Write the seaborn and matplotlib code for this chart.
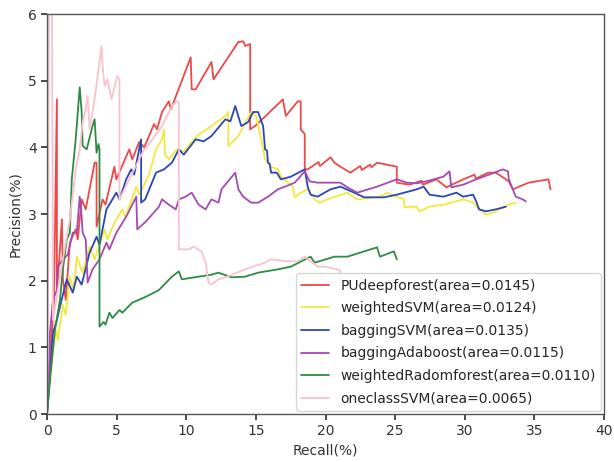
import numpy as np
import pandas as pd
import matplotlib
matplotlib.use("Agg")
import matplotlib.pyplot as plt
import seaborn as sns

methods = [
    "PUdeepforest(area=0.0145)",
    "weightedSVM(area=0.0124)",
    "baggingSVM(area=0.0135)",
    "baggingAdaboost(area=0.0115)",
    "weightedRadomforest(area=0.0110)",
    "oneclassSVM(area=0.0065)",
]
colors = ["#EE4848", "#F2EA3A", "#2A46B8", "#A54AB5", "#2E8B44", "#F7C3CC"]

recall_pudf = [0, 0.21, 0.36, 0.50, 0.71, 0.71, 0.93, 1.07, 1.14, 1.35, 1.64, 2.06, 2.21, 2.49, 2.78,
               3.42, 3.56, 3.56, 3.99, 4.20, 4.84, 4.98, 5.91, 6.12, 6.62, 6.98, 7.69, 7.90, 8.26, 8.75,
               8.90, 10.32, 10.39, 10.68, 11.81, 11.96, 13.74, 14.09, 14.23, 14.59, 14.59, 14.95, 16.94,
               17.15, 18.01, 18.22, 18.22, 18.51, 18.51, 18.72, 19.50, 19.60, 20.36, 20.64, 21.07, 21.78,
               22.50, 22.60, 23.20, 23.30, 23.70, 25.12,
               25.12, 26.05, 26.90, 27.00, 27.97, 28.68, 29.89, 30.70, 30.80, 31.67, 32.24, 33.17, 33.45,
               34.59, 36.01, 36.16]
prec_pudf = [0, 0.81, 1.26, 1.71, 4.72, 1.86, 2.47, 2.92, 2.02, 1.71, 2.57, 2.77, 2.62, 3.22, 3.07,
             3.77, 3.77, 2.81, 3.22, 3.14, 3.71, 3.52, 3.97, 3.82, 4.08, 4.00, 4.35, 4.27, 4.53, 4.69,
             4.57, 5.35, 4.87, 4.87, 5.28, 5.02, 5.58, 5.59, 5.52, 5.55, 4.27, 4.32, 4.72,
             4.47, 4.69, 4.69, 4.27, 4.20, 3.67, 3.67, 3.78, 3.72, 3.85, 3.77, 3.71, 3.62,
             3.72, 3.66, 3.74, 3.70, 3.77, 3.71,
             3.47, 3.44, 3.50, 3.44, 3.52, 3.40, 3.52, 3.59, 3.53, 3.62, 3.62, 3.49, 3.37,
             3.47, 3.52, 3.37]

recall_wsvm = [0, 0.21, 0.43, 0.64, 0.78, 1.14, 1.35, 1.64, 1.92, 2.14, 2.56, 3.06, 3.42, 4.13, 4.34,
               4.84, 5.41, 5.62, 6.41, 6.62, 7.33, 7.83, 8.26, 8.40, 8.47, 8.75, 9.32, 9.82, 10.75, 11.81,
               12.81, 13.02, 13.02, 13.74, 14.66, 15.02, 15.30, 15.52, 15.66, 16.09, 16.58, 16.80, 17.65,
               17.79, 18.22, 18.72, 19.22, 19.57, 20.14, 21.57, 22.28, 23.91, 24.41, 25.62, 25.69, 26.55,
               26.76, 27.47, 28.47, 29.89, 30.60, 30.82, 31.53, 32.03, 33.17, 33.67]
prec_wsvm = [0, 0.51, 0.96, 1.26, 1.11, 1.64, 1.49, 2.06, 1.86, 2.36, 2.12, 2.51, 2.32, 2.77, 2.62,
             2.87, 3.07, 2.95, 3.41, 3.29, 3.59, 3.97, 4.12, 4.27, 3.89, 3.82, 3.97, 3.94, 4.17, 4.32,
             4.47, 4.53, 4.02, 4.17, 4.53, 4.47, 4.20, 3.97, 3.82, 3.71, 3.67, 3.56, 3.41,
             3.25, 3.32, 3.37, 3.22, 3.17, 3.22, 3.32, 3.22, 3.26, 3.32, 3.22, 3.10, 3.11,
             3.04, 3.11, 3.14, 3.22, 3.17, 3.11, 2.99, 3.02, 3.14, 3.17]

recall_bsvm = [0, 0.14, 0.43, 0.71, 0.93, 1.42, 1.85, 2.14, 2.49, 3.06, 3.56, 3.77, 4.27, 4.98, 5.20,
               5.69, 6.05, 6.26, 6.76, 6.76, 7.05, 7.83, 8.40, 8.97, 9.47, 9.82, 10.68, 11.25, 11.81,
               12.81, 13.17, 13.52, 13.95, 14.45, 14.80, 15.16, 15.52, 15.66, 15.80, 15.87, 16.00, 16.09,
               16.50, 16.80, 17.51,
               18.51, 18.72, 18.93, 19.43, 20.36, 21.07, 22.06, 22.78, 24.20, 25.12, 26.55, 27.05, 27.47,
               28.47, 29.40, 29.89, 30.60, 30.82, 31.03, 31.53, 32.24, 32.95]
prec_bsvm = [0, 0.36, 1.22, 1.41, 1.61, 2.02, 1.82, 2.06, 1.94, 2.42, 2.66, 2.54, 3.07, 3.32, 3.22,
             3.52, 3.67, 3.59, 4.12, 3.17, 3.22, 3.62, 3.67, 3.77, 3.97, 3.89, 4.12, 4.09, 4.17,
             4.42, 4.39, 4.62, 4.32, 4.38, 4.53, 4.53, 4.32, 3.97, 3.95, 3.77, 3.75, 3.62,
             3.62, 3.52, 3.56,
             3.67, 3.41, 3.29, 3.26, 3.37, 3.41, 3.32, 3.25, 3.25, 3.29, 3.37, 3.41, 3.29,
             3.26, 3.32, 3.26, 3.29, 3.19, 3.07, 3.04, 3.07, 3.11]

recall_bada = [0, 0.14, 0.21, 0.43, 0.71, 0.78, 1.14, 1.49, 1.85, 2.14, 2.35, 2.49, 2.56, 2.78, 2.92,
               3.27, 3.77, 4.27, 4.48, 4.98, 5.69, 6.41, 6.48, 7.12, 8.04, 8.26, 8.75, 9.25, 9.47, 9.96,
               10.39, 10.89, 11.39, 11.81, 12.31, 12.53, 13.24, 13.52, 13.74, 14.09, 14.66, 15.16, 15.87,
               16.58, 17.08, 17.79, 18.51, 18.86, 19.43, 21.07, 21.57, 22.28, 23.70, 25.12, 25.84, 26.55,
               27.26, 28.47, 28.90, 29.04, 29.89, 30.82, 31.74, 32.74, 33.10, 33.17, 33.45, 33.67, 34.16,
               34.38]
prec_bada = [0, 0.51, 1.22, 1.71, 1.86, 2.21, 2.32, 2.39, 2.72, 2.72, 3.26, 2.96, 2.72, 2.62, 1.97,
             2.17, 2.32, 2.57, 2.47, 2.72, 2.96, 3.26, 2.77, 2.89, 3.11, 3.22, 3.14, 3.07, 3.22, 3.26,
             3.32, 3.14, 3.07, 3.22, 3.17, 3.37, 3.55, 3.62, 3.37, 3.26, 3.17, 3.17, 3.26,
             3.37, 3.41, 3.47, 3.64, 3.49, 3.47, 3.47, 3.40, 3.32, 3.41, 3.52, 3.47, 3.46,
             3.49, 3.56, 3.64, 3.40, 3.44, 3.52, 3.59, 3.67, 3.64, 3.52, 3.37, 3.26, 3.22,
             3.19]

recall_wrf = [0, 0.21, 0.57, 0.93, 1.14, 1.42, 1.64, 1.78, 2.06, 2.35, 2.49, 2.56, 2.85, 3.27, 3.42,
              3.56, 3.70, 3.77, 3.77, 4.06, 4.20, 4.48, 4.70, 5.20, 5.41, 6.12, 7.12, 8.04, 8.97, 9.47,
              9.68, 10.89, 11.81, 12.31, 13.24, 14.23, 15.16, 16.58, 17.51, 18.93, 19.22, 20.64, 21.57,
              22.49, 23.70, 23.91, 24.91, 25.12]
prec_wrf = [0, 0.51, 1.26, 1.71, 2.17, 2.62, 2.72, 3.52, 4.12, 4.90, 4.53, 4.02, 3.97, 4.32, 4.42,
            3.92, 4.05, 3.97, 1.31, 1.38, 1.34, 1.52, 1.44, 1.56, 1.52, 1.67, 1.76, 1.86, 2.06, 2.14,
            2.02, 2.06, 2.09, 2.12, 2.05, 2.06, 2.12, 2.17, 2.21, 2.36, 2.27, 2.36, 2.36,
            2.42, 2.50, 2.36, 2.44, 2.32]

recall_ocsvm = [0, 0.07, 0.14, 0.36, 0.43, 0.78, 1.14, 1.64, 2.06, 2.35, 2.56, 2.78, 2.92, 3.06, 3.42,
                3.91, 3.99, 4.13, 4.34, 4.63, 5.05, 5.20, 5.20, 5.91, 6.62, 6.98, 7.33, 8.26, 8.97, 9.32,
                9.47, 9.47, 9.68, 10.18, 10.53, 11.10, 11.39, 11.60, 11.81, 12.31, 12.81, 14.23, 15.66,
                16.09, 17.30, 18.01, 18.51, 19.43, 19.93, 20.85, 21.07, 21.07]
prec_ocsvm = [0, 1.71, 6.3, 6.3, 1.41, 1.86, 2.32, 2.92, 3.67, 3.97, 4.38, 4.57, 4.77, 4.27, 4.72,
              5.52, 5.22, 4.92, 5.02, 4.72, 5.07, 5.02, 3.22, 3.52, 3.82, 3.97, 4.05, 4.32, 4.62, 4.69,
              4.68, 2.47, 2.47, 2.47, 2.51, 2.44, 2.27, 1.97, 1.94, 2.02, 2.05, 2.17, 2.27,
              2.32, 2.29, 2.29, 2.36, 2.21, 2.21, 2.17, 2.14, 1.94]

x_ticks = [0, 5, 10, 15, 20, 25, 30, 35, 40]
y_ticks = [0, 1, 2, 3, 4, 5, 6]

series = [
    (recall_pudf, prec_pudf),
    (recall_wsvm, prec_wsvm),
    (recall_bsvm, prec_bsvm),
    (recall_bada, prec_bada),
    (recall_wrf, prec_wrf),
    (recall_ocsvm, prec_ocsvm),
]
frames = []
for name, (r, p) in zip(methods, series):
    frames.append(pd.DataFrame({"method": name, "recall": r, "precision": p}))
df = pd.concat(frames, ignore_index=True)

sns.set_theme(style="ticks")
plt.rcParams["font.family"] = ["DejaVu Sans"]

fig = plt.figure(figsize=(6.14, 4.62), dpi=100)
ax = fig.add_axes([47 / 614, 1 - 414 / 462, 557 / 614, 400 / 462])

sns.lineplot(data=df, x="recall", y="precision", hue="method", hue_order=methods,
             palette=colors, sort=False, estimator=None, linewidth=1.3, ax=ax)

ax.set_xlim(0, 40)
ax.set_ylim(0, 6)
ax.set_xticks(x_ticks)
ax.set_yticks(y_ticks)
ax.tick_params(labelsize=10, colors="#333333", length=4)
ax.set_xlabel("Recall(%)", fontsize=10, color="#333333")
ax.set_ylabel("Precision(%)", fontsize=10, color="#333333")
for s in ax.spines.values():
    s.set_visible(True)
    s.set_color("#555555")
    s.set_linewidth(1.0)

leg = ax.legend(loc="lower right", fontsize=10, frameon=True, borderaxespad=0.2,
                handlelength=2.0, labelspacing=0.62)
leg.get_frame().set_edgecolor("#cccccc")
for line in leg.get_lines():
    line.set_linewidth(1.3)

fig.savefig("out.png", dpi=100)
